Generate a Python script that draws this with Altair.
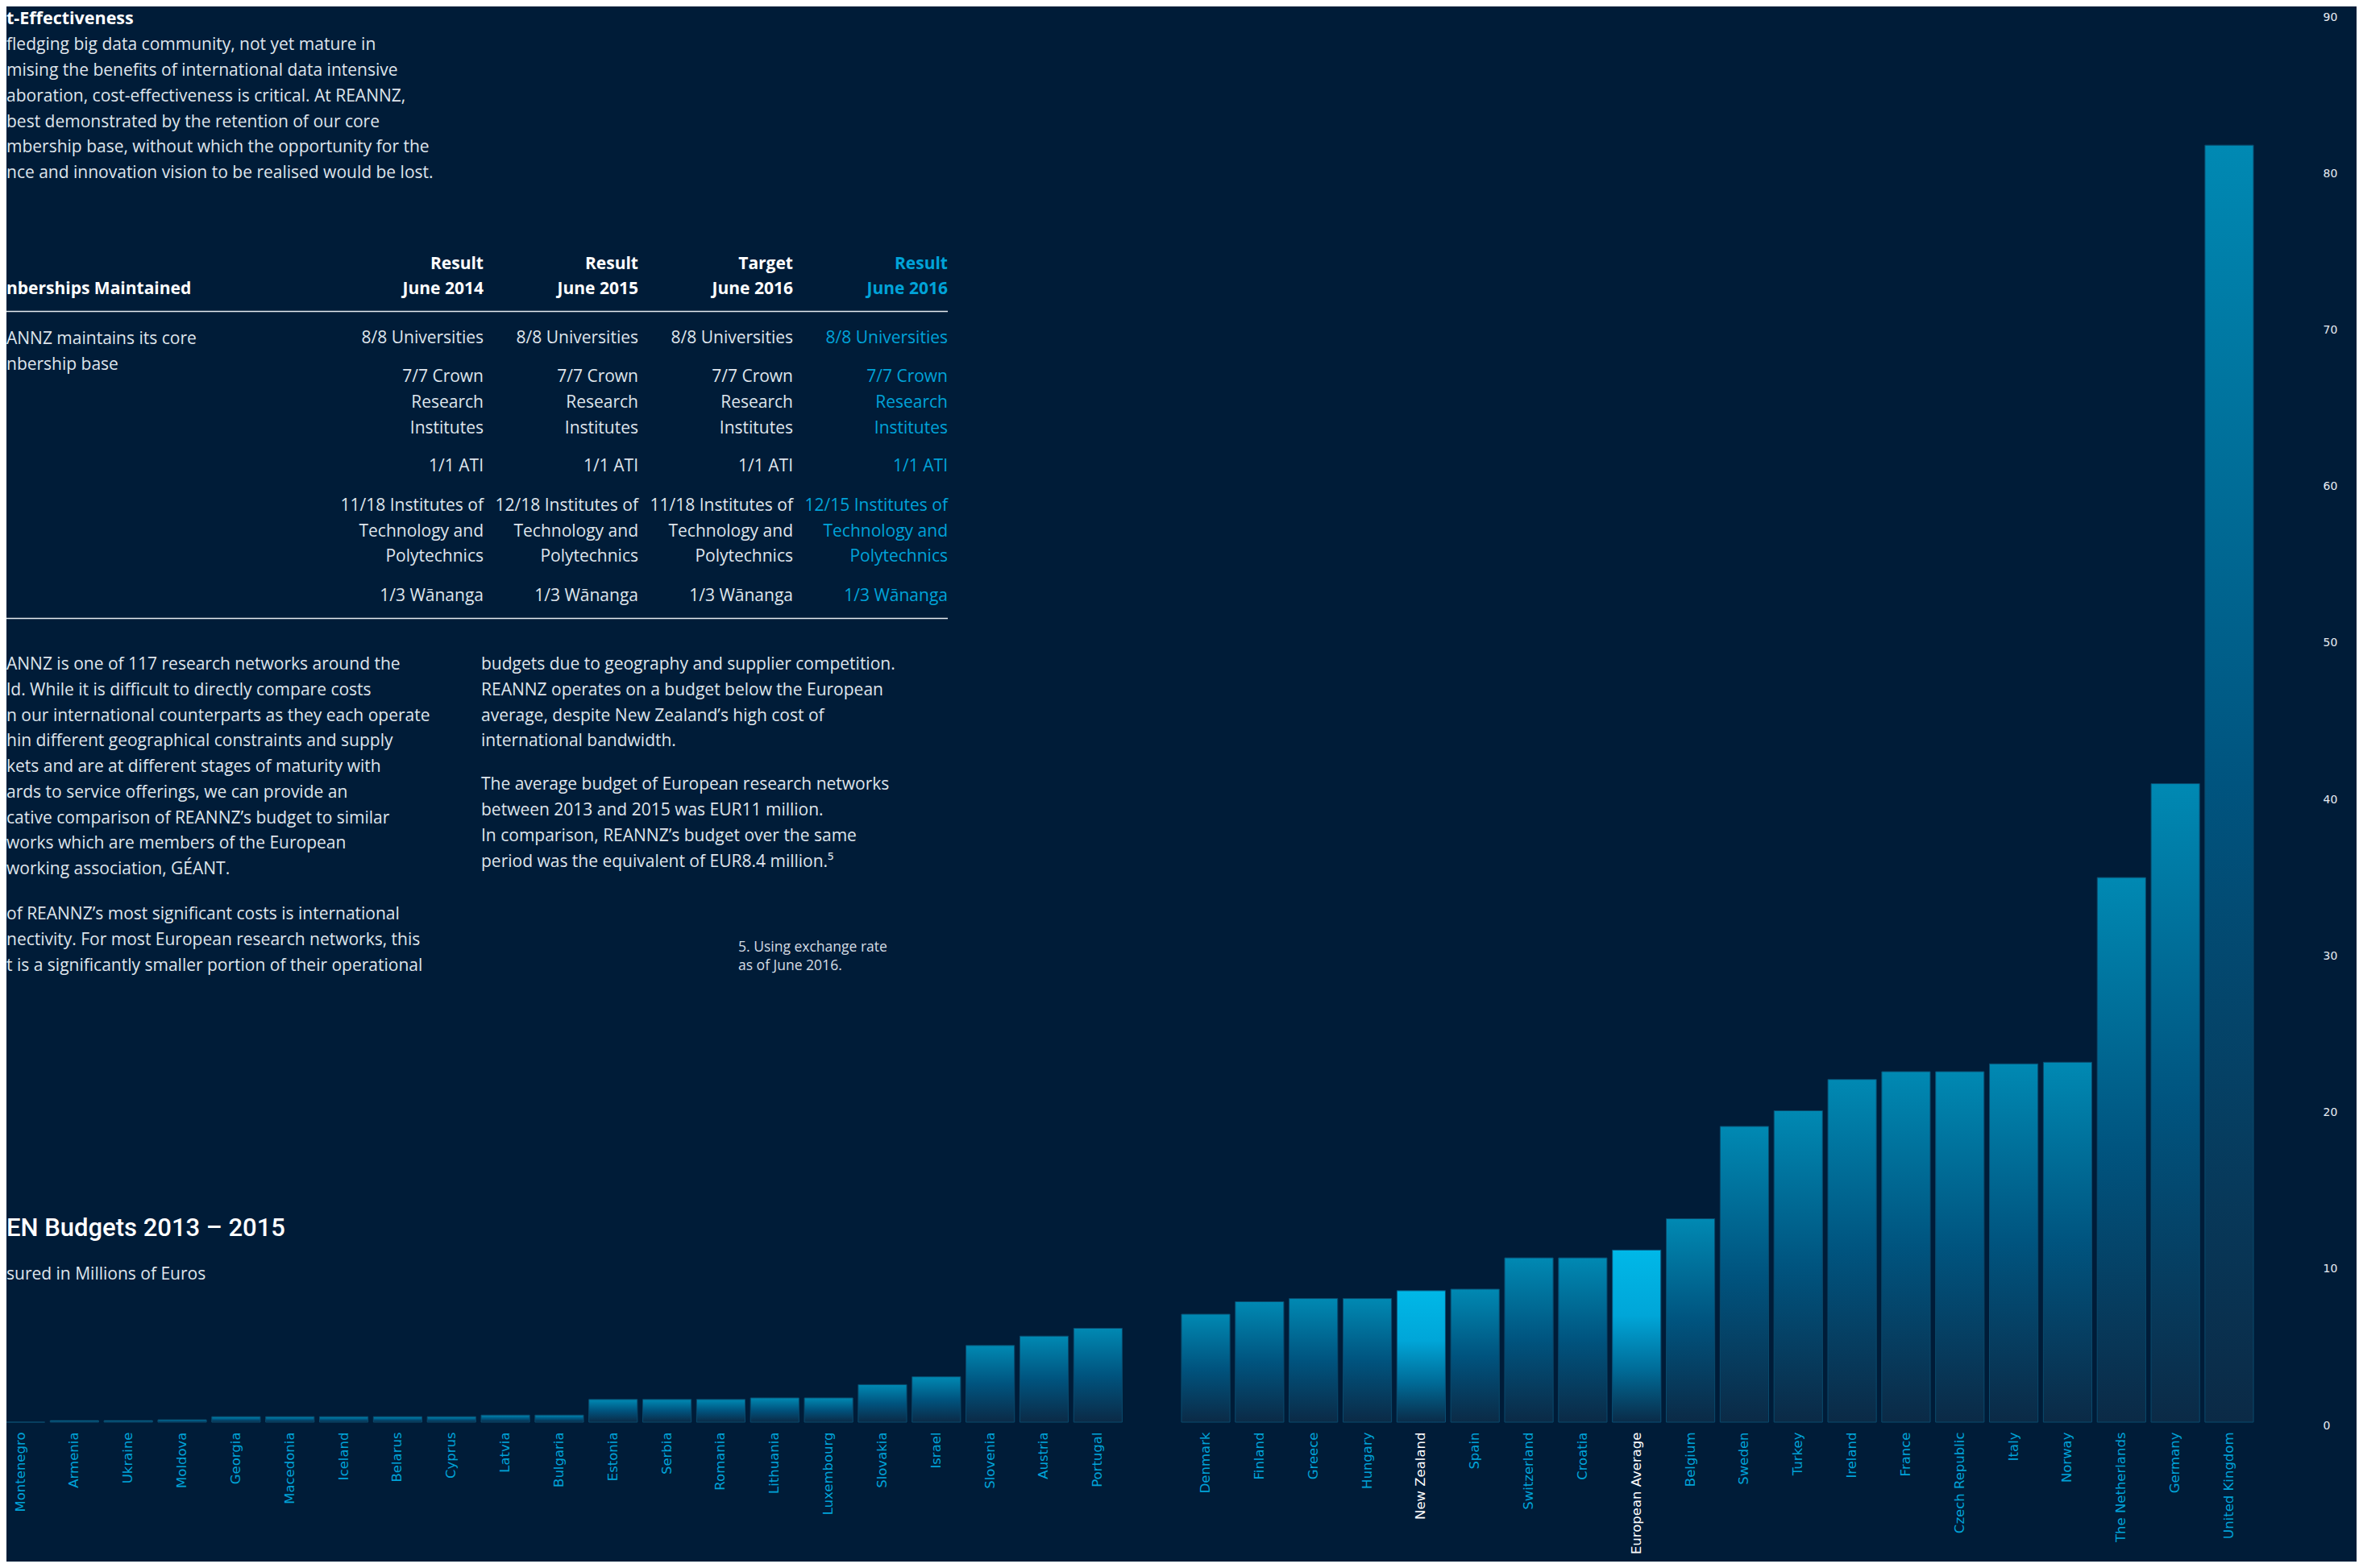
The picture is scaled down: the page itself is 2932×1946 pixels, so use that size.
import altair as alt
import pandas as pd

# ---------------- data ----------------
small_countries = ["Montenegro", "Armenia", "Ukraine", "Moldova", "Georgia", "Macedonia",
                   "Iceland", "Belarus", "Cyprus", "Latvia", "Bulgaria", "Estonia", "Serbia",
                   "Romania", "Lithuania", "Luxembourg", "Slovakia", "Israel", "Slovenia",
                   "Austria", "Portugal"]
small_budgets = [0.0, 0.1, 0.1, 0.15, 0.35, 0.35, 0.35, 0.35, 0.35, 0.45, 0.45, 1.45, 1.45,
                 1.45, 1.55, 1.55, 2.4, 2.9, 4.9, 5.5, 6.0]
large_countries = ["Denmark", "Finland", "Greece", "Hungary", "New Zealand", "Spain",
                   "Switzerland", "Croatia", "European Average", "Belgium", "Sweden", "Turkey",
                   "Ireland", "France", "Czech Republic", "Italy", "Norway", "The Netherlands",
                   "Germany", "United Kingdom"]
large_budgets = [6.9, 7.7, 7.9, 7.9, 8.4, 8.5, 10.5, 10.5, 11.0, 13.0, 18.9, 19.9, 21.9, 22.4,
                 22.4, 22.9, 23.0, 34.8, 40.8, 81.6]
highlight = ["New Zealand", "European Average"]
gap_slot = [" "]
y_ticks = [0, 10, 20, 30, 40, 50, 60, 70, 80, 90]

intro_title = "t-Effectiveness"
intro_lines = ["\u00a0fledging big data community, not yet mature in",
               "mising the benefits of international data intensive",
               "aboration, cost-effectiveness is critical. At REANNZ,",
               "\u00a0best demonstrated by the retention of our core",
               "mbership base, without which the opportunity for the",
               "nce and innovation vision to be realised would be lost."]

table_left_header = "nberships Maintained"
table_left_lines = ["ANNZ maintains its core", "nbership base"]
header_top = ["Result", "Result", "Target", "Result"]
header_bottom = ["June 2014", "June 2015", "June 2016", "June 2016"]
universities = ["8/8 Universities"] * 4
crown = [["7/7 Crown", "Research", "Institutes"]] * 4
ati = ["1/1 ATI"] * 4
itp_counts = ["11/18", "12/18", "11/18", "12/15"]
itp_rest = ["Technology and", "Polytechnics"]
wananga = ["1/3 Wānanga"] * 4

para_left_1 = ["ANNZ is one of 117 research networks around the",
               "ld. While it is difficult to directly compare costs",
               "n our international counterparts as they each operate",
               "hin different geographical constraints and supply",
               "kets and are at different stages of maturity with",
               "ards to service offerings, we can provide an",
               "cative comparison of REANNZ\u2019s budget to similar",
               "works which are members of the European",
               "working association, GÉANT."]
para_left_2 = ["\u00a0of REANNZ\u2019s most significant costs is international",
               "nectivity. For most European research networks, this",
               "t is a significantly smaller portion of their operational"]
para_right_1 = ["budgets due to geography and supplier competition.",
                "REANNZ operates on a budget below the European",
                "average, despite New Zealand\u2019s high cost of",
                "international bandwidth."]
para_right_2 = ["The average budget of European research networks",
                "between 2013 and 2015 was EUR11 million.",
                "In comparison, REANNZ\u2019s budget over the same",
                "period was the equivalent of EUR8.4 million.\u2075"]
footnote = ["5. Using exchange rate", "as of June 2016."]
chart_title = "EN Budgets 2013 \u2013 2015"
chart_subtitle = "sured in Millions of Euros"

# ---------------- style ----------------
BG = "#001c38"
BODY = "#dfe5ec"
CYAN = "#00a3d8"
FONT = "Open Sans"
TITLE_FONT = "Roboto"
LH = 31.75
MX, MY = 8, 17  # page margin + top padding

grad_normal = alt.Gradient(
    gradient="linear", x1=0, x2=0, y1=0, y2=1,
    stops=[alt.GradientStop(offset=0, color="#0089b3"),
           alt.GradientStop(offset=0.5, color="#00547f"),
           alt.GradientStop(offset=1, color="#0b2a46")])
grad_high = alt.Gradient(
    gradient="linear", x1=0, x2=0, y1=0, y2=1,
    stops=[alt.GradientStop(offset=0, color="#00b8e8"),
           alt.GradientStop(offset=0.38, color="#00a6d8"),
           alt.GradientStop(offset=0.7, color="#006b97"),
           alt.GradientStop(offset=1, color="#0a2b48")])

df = pd.DataFrame({"country": small_countries + large_countries,
                   "budget": small_budgets + large_budgets})
domain = small_countries + gap_slot + large_countries

x_enc = alt.X("country:N", sort=domain,
              scale=alt.Scale(domain=domain, range=[-15.9, 2791.4],
                              paddingInner=0.1, paddingOuter=0.05),
              axis=alt.Axis(title=None, labelAngle=270, ticks=False, tickSize=0,
                            domain=False, grid=False, labelPadding=12,
                            labelFont="DejaVu Sans", labelFontSize=16.5, labelLimit=400,
                            labelColor={"condition": {
                                "test": "datum.value == 'New Zealand' || datum.value == 'European Average'",
                                "value": "#ffffff"}, "value": CYAN}))
y_enc = alt.Y("budget:Q",
              scale=alt.Scale(domain=[0, 90], nice=False),
              axis=alt.Axis(title=None, orient="right", values=y_ticks, ticks=False,
                            tickSize=0, domain=False, grid=False, labelPadding=10,
                            labelFont="DejaVu Sans", labelFontSize=14,
                            labelColor="#e8edf3", labelOffset=4))

base = alt.Chart(df)
bars_normal = base.transform_filter(
    alt.LogicalNotPredicate(**{"not": alt.FieldOneOfPredicate(field="country", oneOf=highlight)})
).mark_bar(color=grad_normal, stroke="#0a4a6c", strokeWidth=1).encode(x=x_enc, y=y_enc)
bars_high = base.transform_filter(
    alt.FieldOneOfPredicate(field="country", oneOf=highlight)
).mark_bar(color=grad_high, stroke="#0a4f74", strokeWidth=1).encode(x=x_enc, y=y_enc)


def text_block(lines, x, y_first_center, size=21, weight="normal", color=BODY,
               align="left", lh=LH, font=FONT):
    top = y_first_center - 0.44 * size
    return alt.Chart(pd.DataFrame({"t": ["\n".join(lines)]})).mark_text(
        align=align, baseline="top", font=font, fontSize=size, fontWeight=weight,
        color=color, lineBreak="\n", lineHeight=lh
    ).encode(x=alt.value(x - MX), y=alt.value(top - MY), text="t:N")


def hrule(x0, x1, y):
    return alt.Chart(pd.DataFrame({"a": [0]})).mark_rule(
        color="#e6ebf0", strokeWidth=1.6
    ).encode(x=alt.value(x0 - MX), x2=alt.value(x1 - MX), y=alt.value(y - MY))


layers = []
# intro
layers.append(text_block([intro_title], 8, 22, size=21.5, weight="bold", color="#ffffff"))
layers.append(text_block(intro_lines, 8, 54.5))

# table
col_right = [600, 792, 984, 1176]
col_colors = ["#ffffff", "#ffffff", "#ffffff", CYAN]
cell_colors = [BODY, BODY, BODY, CYAN]
layers.append(text_block([table_left_header], 8, 357, weight="bold", color="#ffffff"))
layers.append(text_block(table_left_lines, 8, 419))
layers.append(hrule(8, 1176, 386.5))
layers.append(hrule(8, 1176, 767.5))
group_y = [418.5, 466.5, 577.5, 626, 738.5]
for i in range(4):
    layers.append(text_block([header_top[i], header_bottom[i]], col_right[i], 326,
                             weight="bold", color=col_colors[i], align="right", lh=31))
    groups = [[universities[i]], crown[i], [ati[i]],
              [itp_counts[i] + " Institutes of"] + itp_rest, [wananga[i]]]
    for g, gy in zip(groups, group_y):
        layers.append(text_block(g, col_right[i], gy, color=cell_colors[i], align="right"))

# paragraphs
layers.append(text_block(para_left_1, 8, 823.3))
layers.append(text_block(para_left_2, 8, 1133.3))
layers.append(text_block(para_right_1, 597, 823.3))
layers.append(text_block(para_right_2, 597, 972.5))
layers.append(text_block(footnote, 916, 1175, size=17.5, lh=23, color="#d5dce4"))

# chart title
layers.append(text_block([chart_title], 8, 1523.5, size=31, weight=500, color="#ffffff",
                         font=TITLE_FONT))
layers.append(text_block([chart_subtitle], 8, 1580))

chart = alt.layer(bars_normal, bars_high, *layers).properties(
    width=2864, height=1748,
    autosize=alt.AutoSizeParams(type="none"),
    padding={"left": 0, "top": 9, "right": 52, "bottom": 173},
    background=BG,
).configure_view(strokeWidth=0)

chart.save("out.html", embed_options={"renderer": "svg", "actions": False})
